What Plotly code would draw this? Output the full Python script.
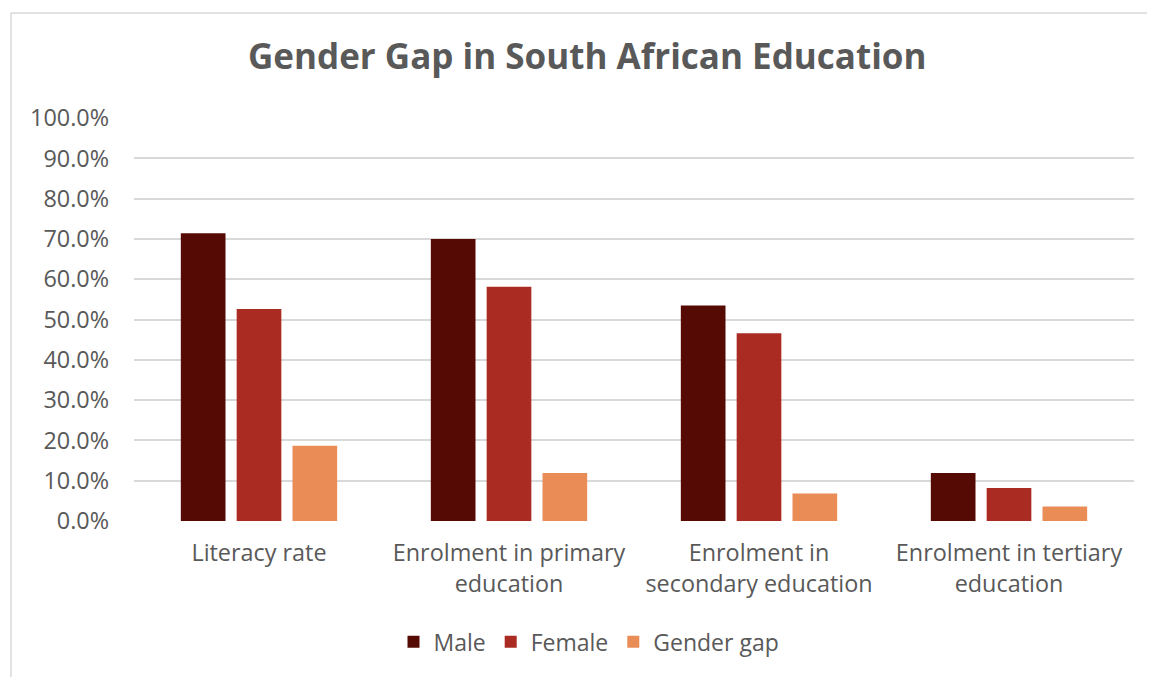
import plotly.graph_objects as go

categories = ["Literacy rate", "Enrolment in primary<br>education",
              "Enrolment in<br>secondary education", "Enrolment in tertiary<br>education"]
male = [71.4, 70.0, 53.5, 11.9]
female = [52.6, 58.1, 46.6, 8.2]
gap = [18.7, 11.9, 6.8, 3.6]
tick_vals = [0, 10, 20, 30, 40, 50, 60, 70, 80, 90, 100]
tick_text = [f"{v:.1f}%" for v in tick_vals]

FONT = "Open Sans"
GREY = "#595959"

fig = go.Figure()
for name, vals, col in [("Male", male, "#560a04"), ("Female", female, "#aa2b22"),
                        ("Gender gap", gap, "#ea8c56")]:
    fig.add_trace(go.Bar(x=categories, y=vals, name=name, marker_color=col,
                         marker_line_width=0))

fig.update_layout(
    width=1147, height=669,
    margin=dict(l=126, r=21, t=110, b=156),
    paper_bgcolor="white", plot_bgcolor="white",
    font=dict(family=FONT, color=GREY, size=23),
    title=dict(text="<b>Gender Gap in South African Education</b>",
               x=0.505, xanchor="center", y=0.927, yanchor="middle",
               font=dict(family=FONT, size=35, color=GREY)),
    bargap=0.33, bargroupgap=0.2,
    legend=dict(orientation="h", x=0.455, xanchor="center", y=-0.30, yanchor="middle",
                font=dict(size=23, color=GREY), itemwidth=30, traceorder="normal"),
    xaxis=dict(showgrid=False, showline=False, ticks="", ticklabelstandoff=16,
               tickfont=dict(size=23.4, color=GREY)),
    yaxis=dict(range=[0, 100], tickvals=tick_vals, ticktext=tick_text,
               showgrid=True, gridcolor="#d9d9d9", gridwidth=1.5, zeroline=False,
               showline=False, ticklabelstandoff=24, tickfont=dict(size=23.4, color=GREY)),
    shapes=[
        dict(type="line", xref="paper", yref="paper", x0=-0.123, x1=1.03, y0=1.2605, y1=1.2605,
             line=dict(color="#d9d9d9", width=1.5)),
        dict(type="line", xref="paper", yref="paper", x0=-0.123, x1=-0.123, y0=1.2605, y1=-0.40,
             line=dict(color="#d9d9d9", width=1.5)),
    ],
)

fig.write_html("out.html")
